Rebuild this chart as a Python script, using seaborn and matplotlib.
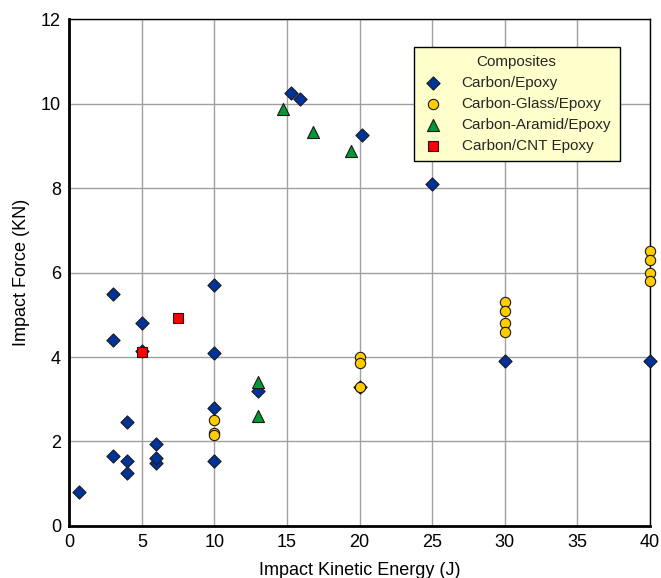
import matplotlib
matplotlib.use("Agg")
import matplotlib.pyplot as plt
import seaborn as sns
import pandas as pd

# ---- data ----
ce_x = [0.65, 3, 3, 3, 4, 4, 4, 5, 5, 6, 6, 6, 10, 10, 10, 10, 13, 15.3, 15.9, 20, 20.2, 25, 30, 40]
ce_y = [0.80, 1.65, 4.40, 5.50, 1.25, 1.55, 2.45, 4.15, 4.80, 1.50, 1.60, 1.95, 1.55, 2.80, 4.10, 5.70, 3.20, 10.25, 10.10, 3.30, 9.25, 8.10, 3.90, 3.90]

cg_x = [10, 10, 10, 20, 20, 20, 30, 30, 30, 30, 40, 40, 40, 40]
cg_y = [2.50, 2.20, 2.15, 4.00, 3.85, 3.30, 5.30, 5.10, 4.80, 4.60, 6.50, 6.30, 6.00, 5.80]

ca_x = [13, 13, 14.75, 16.8, 19.4]
ca_y = [3.40, 2.60, 9.87, 9.33, 8.87]

cnt_x = [5, 7.5]
cnt_y = [4.13, 4.93]

series = ["Carbon/Epoxy", "Carbon-Glass/Epoxy", "Carbon-Aramid/Epoxy", "Carbon/CNT Epoxy"]
x_ticks = [0, 5, 10, 15, 20, 25, 30, 35, 40]
y_ticks = [0, 2, 4, 6, 8, 10, 12]

sns.set_theme(style="white")
plt.rcParams["font.family"] = ["Liberation Sans", "DejaVu Sans"]

fig = plt.figure(figsize=(6.61, 5.78), dpi=100)
ax = fig.add_axes([0.105, 0.09, 0.878, 0.877])

styles = [
    (ce_x, ce_y, "D", "#003399", 45),
    (cg_x, cg_y, "o", "#FFCC00", 55),
    (ca_x, ca_y, "^", "#009933", 75),
    (cnt_x, cnt_y, "s", "#FF0000", 60),
]
for name, (xs, ys, mk, col, sz) in zip(series, styles):
    df = pd.DataFrame({"x": xs, "y": ys})
    sns.scatterplot(data=df, x="x", y="y", ax=ax, marker=mk, color=col, s=sz,
                    edgecolor="#1a1a1a", linewidth=0.8, label=name, zorder=3,
                    clip_on=False)

ax.set_xlim(0, 40)
ax.set_ylim(0, 12)
ax.set_xticks(x_ticks)
ax.set_yticks(y_ticks)
ax.grid(True, color="#a0a0a0", linewidth=1.0, zorder=0)
ax.set_axisbelow(True)
ax.tick_params(axis="both", length=0, labelsize=13, colors="black", pad=6)
for side in ["left", "bottom"]:
    ax.spines[side].set_linewidth(2.0)
    ax.spines[side].set_color("black")
for side in ["top", "right"]:
    ax.spines[side].set_linewidth(1.0)
    ax.spines[side].set_color("black")

ax.set_xlabel("Impact Kinetic Energy (J)", fontsize=13, color="black", labelpad=8)
ax.set_ylabel("Impact Force (KN)", fontsize=13, color="black", labelpad=8)

leg = ax.legend(title="Composites", loc="upper right", bbox_to_anchor=(0.948, 0.945),
                borderaxespad=0,
                fontsize=11, title_fontsize=11, frameon=True, fancybox=False,
                facecolor="#FFFFCC", edgecolor="black", framealpha=1.0,
                borderpad=0.55, handlelength=1.4, handletextpad=1.2, labelspacing=0.45)
leg.get_frame().set_linewidth(1.0)

fig.savefig("out.png", dpi=100)
